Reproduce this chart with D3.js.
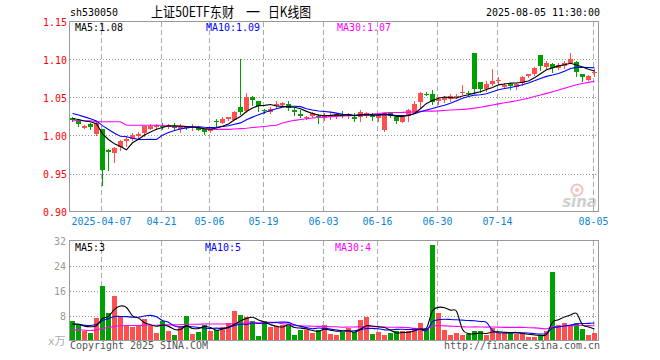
<!DOCTYPE html>
<html>
<head>
<meta charset="utf-8">
<script src="https://cdn.jsdelivr.net/npm/d3@7"></script>
<style>
    body { margin: 0; background: #fff; }
    #chart { width: 660px; height: 360px; }
    .mono { font-family: "DejaVu Sans Mono", monospace; font-size: 11px; }
</style>
</head>
<body>
<div id="chart"></div>
<script>
// trading days shown (one candle each)
const dates = [
    "2025-03-28", "2025-03-31", "2025-04-01", "2025-04-02", "2025-04-03", "2025-04-07", "2025-04-08", "2025-04-09", "2025-04-10", "2025-04-11",
    "2025-04-14", "2025-04-15", "2025-04-16", "2025-04-17", "2025-04-18", "2025-04-21", "2025-04-22", "2025-04-23", "2025-04-24", "2025-04-25",
    "2025-04-28", "2025-04-29", "2025-04-30", "2025-05-06", "2025-05-07", "2025-05-08", "2025-05-09", "2025-05-12", "2025-05-13", "2025-05-14",
    "2025-05-15", "2025-05-16", "2025-05-19", "2025-05-20", "2025-05-21", "2025-05-22", "2025-05-23", "2025-05-26", "2025-05-27", "2025-05-28",
    "2025-05-29", "2025-05-30", "2025-06-03", "2025-06-04", "2025-06-05", "2025-06-06", "2025-06-09", "2025-06-10", "2025-06-11", "2025-06-12",
    "2025-06-13", "2025-06-16", "2025-06-17", "2025-06-18", "2025-06-19", "2025-06-20", "2025-06-23", "2025-06-24", "2025-06-25", "2025-06-26",
    "2025-06-27", "2025-06-30", "2025-07-01", "2025-07-02", "2025-07-03", "2025-07-04", "2025-07-07", "2025-07-08", "2025-07-09", "2025-07-10",
    "2025-07-11", "2025-07-14", "2025-07-15", "2025-07-16", "2025-07-17", "2025-07-18", "2025-07-21", "2025-07-22", "2025-07-23", "2025-07-24",
    "2025-07-25", "2025-07-28", "2025-07-29", "2025-07-30", "2025-07-31", "2025-08-01", "2025-08-04", "2025-08-05"
];

const opens = [
    1.023, 1.021, 1.011, 1.015, 1.002, 1.008, 0.981, 0.978, 0.985, 0.993,
    0.995, 0.9995, 1.003, 1.009, 1.0105, 1.0125, 1.0113, 1.013, 1.0085, 1.012,
    1.0105, 1.0105, 1.008, 1.006, 1.0185, 1.017, 1.022, 1.021, 1.037, 1.032,
    1.050, 1.045, 1.0335, 1.032, 1.038, 1.040, 1.041, 1.034, 1.028, 1.024,
    1.0245, 1.0255, 1.023, 1.024, 1.025, 1.0275, 1.025, 1.025, 1.024, 1.026,
    1.027, 1.023, 1.007, 1.029, 1.025, 1.019, 1.025, 1.030, 1.044, 1.055,
    1.054, 1.0455, 1.0465, 1.048, 1.0508, 1.0565, 1.0565, 1.108, 1.070, 1.0605,
    1.0675, 1.072, 1.064, 1.068, 1.0649, 1.0697, 1.0777, 1.080, 1.1055, 1.0905,
    1.0947, 1.089, 1.0915, 1.096, 1.097, 1.0805, 1.0733, 1.0835
];
const highs = [
    1.025, 1.022, 1.014, 1.017, 1.019, 1.009, 0.982, 0.985, 0.994, 0.999,
    1.003, 1.004, 1.013, 1.015, 1.015, 1.017, 1.015, 1.016, 1.015, 1.013,
    1.015, 1.012, 1.009, 1.009, 1.022, 1.024, 1.025, 1.032, 1.101, 1.056,
    1.052, 1.046, 1.035, 1.037, 1.045, 1.044, 1.045, 1.0365, 1.033, 1.026,
    1.031, 1.028, 1.029, 1.030, 1.030, 1.032, 1.030, 1.030, 1.034, 1.031,
    1.030, 1.027, 1.030, 1.031, 1.026, 1.025, 1.035, 1.046, 1.057, 1.057,
    1.060, 1.050, 1.0515, 1.054, 1.054, 1.066, 1.0585, 1.108, 1.071, 1.072,
    1.087, 1.077, 1.0695, 1.069, 1.069, 1.078, 1.081, 1.090, 1.1055, 1.0975,
    1.095, 1.096, 1.0975, 1.109, 1.098, 1.0815, 1.0795, 1.0872
];
const lows = [
    1.019, 1.013, 1.010, 1.009, 1.000, 0.935, 0.954, 0.965, 0.981, 0.986,
    0.994, 0.995, 0.999, 1.008, 1.009, 1.009, 1.010, 1.008, 1.005, 1.008,
    1.007, 1.007, 1.002, 1.004, 1.013, 1.016, 1.021, 1.020, 1.028, 1.031,
    1.040, 1.032, 1.029, 1.030, 1.036, 1.039, 1.033, 1.027, 1.024, 1.022,
    1.024, 1.016, 1.020, 1.022, 1.023, 1.024, 1.023, 1.019, 1.019, 1.024,
    1.020, 1.019, 1.006, 1.024, 1.017, 1.018, 1.019, 1.029, 1.038, 1.053,
    1.042, 1.041, 1.044, 1.046, 1.049, 1.054, 1.0535, 1.056, 1.057, 1.059,
    1.066, 1.068, 1.062, 1.061, 1.0615, 1.067, 1.0765, 1.0795, 1.086, 1.087,
    1.0837, 1.087, 1.089, 1.095, 1.078, 1.0715, 1.0725, 1.0784
];
const closes = [
    1.020, 1.016, 1.013, 1.011, 1.017, 0.954, 0.979, 0.984, 0.993, 0.996,
    1.000, 1.002, 1.012, 1.013, 1.0135, 1.012, 1.014, 1.0105, 1.012, 1.0098,
    1.011, 1.008, 1.004, 1.0083, 1.018, 1.022, 1.024, 1.031, 1.030, 1.051,
    1.0455, 1.039, 1.033, 1.0355, 1.041, 1.043, 1.0355, 1.031, 1.025, 1.0242,
    1.029, 1.025, 1.027, 1.027, 1.028, 1.027, 1.028, 1.022, 1.031, 1.030,
    1.0245, 1.027, 1.029, 1.025, 1.020, 1.025, 1.033, 1.042, 1.056, 1.0548,
    1.044, 1.0485, 1.050, 1.0517, 1.0526, 1.0575, 1.0558, 1.061, 1.0605, 1.0675,
    1.0715, 1.0728, 1.067, 1.0655, 1.0684, 1.077, 1.0803, 1.0885, 1.0915, 1.0955,
    1.089, 1.0934, 1.096, 1.101, 1.084, 1.0767, 1.0785, 1.0838
];

// volume, in 10k lots (x万)
const volumes = [
    6.1, 5.3, 2.9, 2.3, 7.1, 17.6, 8.7, 14.1, 7.7, 4.7,
    4.3, 5.0, 6.8, 4.5, 2.3, 6.1, 2.9, 1.9, 4.5, 8.0,
    2.0, 2.7, 5.1, 3.0, 3.5, 4.3, 5.7, 9.6, 8.3, 7.5,
    6.1, 1.4, 6.1, 4.3, 4.8, 5.0, 4.8, 1.8, 3.5, 3.5,
    2.5, 3.5, 5.0, 2.0, 1.9, 2.7, 4.0, 2.7, 6.7, 7.5,
    2.2, 2.7, 1.6, 2.3, 3.2, 2.9, 3.2, 4.0, 5.5, 4.1,
    30.7, 8.7, 3.5, 1.6, 2.3, 1.6, 2.0, 3.2, 2.9, 1.6,
    4.0, 2.3, 2.3, 2.3, 2.0, 2.3, 1.1, 1.1, 1.9, 3.2,
    21.9, 5.0, 5.7, 5.0, 5.7, 3.7, 1.6, 2.3
];

// moving-average values before a full window exists
const ma5Lead = [1.0224, 1.021, 1.019, 1.018];
const ma10Lead = [1.029, 1.027, 1.0245, 1.022, 1.019, 1.013, 1.008, 1.003, 0.999];
const ma30Lead = [
    1.0195, 1.0195, 1.0195, 1.0195, 1.018, 1.018, 1.018, 1.018, 1.018, 1.0135,
    1.0135, 1.0135, 1.0135, 1.0135, 1.0135, 1.0135, 1.012, 1.012, 1.0115, 1.011,
    1.011, 1.0105, 1.009, 1.0085, 1.008, 1.008, 1.008, 1.0085, 1.009
];
const volMa5Lead = [5.3, 5.2, 4.6, 4.4];
const volMa10Lead = [5.3, 5.2, 4.9, 4.8, 5.2, 6.3, 7.0, 7.7, 7.7];
const volMa30Lead = [
    3.4, 3.4, 3.3, 3.2, 3.4, 3.8, 4.2, 4.5, 4.7, 4.8,
    4.8, 4.8, 4.9, 4.9, 4.9, 5.0, 5.0, 5.0, 5.1, 5.2,
    5.2, 5.2, 5.3, 5.3, 5.3, 5.3, 5.3, 5.4, 5.4
];

const tickDates = ["2025-04-07", "2025-04-21", "2025-05-06", "2025-05-19", "2025-06-03",
    "2025-06-16", "2025-06-30", "2025-07-14", "2025-08-05"];
const priceTicks = [0.90, 0.95, 1.00, 1.05, 1.10, 1.15];
const volTicks = [8, 16, 24, 32];
const titleParts = ["上证50ETF东财", "一", "日K线图"];

const RED = "#ff5050";
const GREEN = "#00a000";

class KLineVis {
    constructor(parentElement) {
        this.parentElement = parentElement;
        this.initVis();
    }

    initVis() {
        let vis = this;

        vis.left = 70;
        vis.right = 598;

        vis.svg = d3.select("#" + vis.parentElement)
            .append("svg")
            .attr("width", 660)
            .attr("height", 360);

        vis.xScale = d3.scaleBand()
            .domain(dates)
            .range([vis.left, vis.right])
            .padding(0);

        vis.yPrice = d3.scaleLinear()
            .domain([0.90, 1.15])
            .range([211.5, 21.5]);

        vis.yVol = d3.scaleLinear()
            .domain([0, 32])
            .range([340.5, 240.5]);

        vis.wrangleData();
    }

    wrangleData() {
        let vis = this;

        let rolling = (arr, n, lead) => arr.map((v, i) =>
            i < n - 1 ? lead[i] : d3.mean(arr.slice(i - n + 1, i + 1)));

        vis.candles = dates.map((d, i) => ({
            date: d, open: opens[i], high: highs[i], low: lows[i], close: closes[i],
            volume: volumes[i], up: closes[i] >= opens[i]
        }));

        vis.ma5 = rolling(closes, 5, ma5Lead);
        vis.ma10 = rolling(closes, 10, ma10Lead);
        vis.ma30 = rolling(closes, 30, ma30Lead);
        vis.vma5 = rolling(volumes, 5, volMa5Lead);
        vis.vma10 = rolling(volumes, 10, volMa10Lead);
        vis.vma30 = rolling(volumes, 30, volMa30Lead);

        vis.updateVis();
    }

    monoText(g, x, y, str, color, anchor) {
        return g.append("text")
            .attr("class", "mono")
            .attr("x", x)
            .attr("y", y)
            .attr("text-anchor", anchor || "start")
            .attr("fill", color)
            .attr("textLength", str.length * 6)
            .attr("lengthAdjust", "spacingAndGlyphs")
            .text(str);
    }

    updateVis() {
        let vis = this;
        let last = dates.length - 1;

        // header
        vis.monoText(vis.svg, 70, 16, "sh530050", "#000");
        let titlePos = [[151, 83], [246, null], [268, 43]];
        vis.svg.selectAll(".title")
            .data(titleParts)
            .enter()
            .append("text")
            .attr("class", "title")
            .attr("x", (d, i) => titlePos[i][0])
            .attr("y", 17)
            .attr("textLength", (d, i) => titlePos[i][1])
            .attr("lengthAdjust", "spacingAndGlyphs")
            .style("font-family", "'Noto Sans CJK SC', sans-serif")
            .style("font-size", "14px")
            .attr("fill", "#000")
            .text(d => d);
        vis.monoText(vis.svg, 600, 16, "2025-08-05 11:30:00", "#000", "end");

        // grids
        let grid = vis.svg.append("g").attr("shape-rendering", "crispEdges");
        tickDates.forEach(d => {
            let gx = Math.round(vis.xScale(d)) + 1.5;
            [[21.5, 211.5], [240.5, 340.5]].forEach(r => {
                grid.append("line")
                    .attr("x1", gx).attr("x2", gx)
                    .attr("y1", r[0]).attr("y2", r[1])
                    .attr("stroke", "#aaa")
                    .attr("stroke-dasharray", "5,3");
            });
        });
        priceTicks.slice(1, -1).forEach(p => {
            grid.append("line")
                .attr("x1", vis.left).attr("x2", vis.right)
                .attr("y1", Math.round(vis.yPrice(p)) + 0.5).attr("y2", Math.round(vis.yPrice(p)) + 0.5)
                .attr("stroke", "#999")
                .attr("stroke-dasharray", "1,2");
        });
        volTicks.slice(0, -1).forEach(v => {
            grid.append("line")
                .attr("x1", vis.left).attr("x2", vis.right)
                .attr("y1", Math.round(vis.yVol(v)) + 0.5).attr("y2", Math.round(vis.yVol(v)) + 0.5)
                .attr("stroke", "#999")
                .attr("stroke-dasharray", "1,2");
        });

        // sina watermark
        let wm = vis.svg.append("g").attr("opacity", 0.55);
        wm.append("circle").attr("cx", 577).attr("cy", 190).attr("r", 5.5)
            .attr("fill", "none").attr("stroke", "#f09090").attr("stroke-width", 2);
        wm.append("circle").attr("cx", 577).attr("cy", 190).attr("r", 2).attr("fill", "#f09090");
        wm.append("text")
            .attr("x", 597).attr("y", 207)
            .attr("text-anchor", "end")
            .style("font-family", "'DejaVu Sans', sans-serif")
            .style("font-size", "15px")
            .style("font-style", "italic")
            .style("font-weight", "bold")
            .attr("fill", "#aaa")
            .text("sina");

        // candles
        let cg = vis.svg.append("g").attr("shape-rendering", "crispEdges");
        cg.selectAll(".wick")
            .data(vis.candles)
            .enter()
            .append("line")
            .attr("class", "wick")
            .attr("x1", d => vis.xScale(d.date) + 2.5)
            .attr("x2", d => vis.xScale(d.date) + 2.5)
            .attr("y1", d => Math.round(vis.yPrice(d.high)))
            .attr("y2", d => Math.round(vis.yPrice(d.low)) + 1)
            .attr("stroke", d => d.up ? RED : GREEN);

        cg.selectAll(".body")
            .data(vis.candles)
            .enter()
            .append("rect")
            .attr("class", "body")
            .attr("x", d => vis.xScale(d.date))
            .attr("y", d => Math.round(vis.yPrice(Math.max(d.open, d.close))))
            .attr("width", 5)
            .attr("height", d => Math.max(1, Math.round(Math.abs(vis.yPrice(d.open) - vis.yPrice(d.close)))))
            .attr("fill", d => d.up ? RED : GREEN);

        // price moving averages
        let priceLine = d3.line()
            .x((v, i) => vis.xScale(dates[i]) + 2.5)
            .y(v => vis.yPrice(v));
        [[vis.ma30, "#ff00ff"], [vis.ma10, "#0000ff"], [vis.ma5, "#000"]].forEach(m => {
            vis.svg.append("path")
                .attr("d", priceLine(m[0]))
                .attr("fill", "none")
                .attr("stroke", m[1])
                .attr("stroke-width", 1.1);
        });

        // volume bars
        vis.svg.append("g")
            .attr("shape-rendering", "crispEdges")
            .selectAll(".vol")
            .data(vis.candles)
            .enter()
            .append("rect")
            .attr("class", "vol")
            .attr("x", d => vis.xScale(d.date))
            .attr("y", d => Math.round(vis.yVol(d.volume)))
            .attr("width", 5)
            .attr("height", d => 340 - Math.round(vis.yVol(d.volume)))
            .attr("fill", d => d.up ? RED : GREEN);

        let volLine = d3.line()
            .x((v, i) => vis.xScale(dates[i]) + 2.5)
            .y(v => vis.yVol(v))
            .curve(d3.curveCardinal);
        [[vis.vma30, "#ff00ff"], [vis.vma10, "#0000ff"], [vis.vma5, "#000"]].forEach(m => {
            vis.svg.append("path")
                .attr("d", volLine(m[0]))
                .attr("fill", "none")
                .attr("stroke", m[1])
                .attr("stroke-width", 1.1);
        });

        // panel borders
        [[21.5, 211.5], [240.5, 340.5]].forEach(r => {
            vis.svg.append("rect")
                .attr("x", vis.left - 0.5)
                .attr("y", r[0])
                .attr("width", vis.right - vis.left + 1)
                .attr("height", r[1] - r[0])
                .attr("fill", "none")
                .attr("stroke", "#999")
                .attr("shape-rendering", "crispEdges");
        });

        // price axis labels
        priceTicks.forEach(p => {
            vis.monoText(vis.svg, 67, vis.yPrice(p) + 4, p.toFixed(2), "#ff0000", "end");
        });

        // volume axis labels
        volTicks.forEach(v => {
            vis.monoText(vis.svg, 66, vis.yVol(v) + 4, String(v), "#999", "end");
        });
        vis.svg.append("text")
            .attr("x", 48).attr("y", 345)
            .style("font-family", "'DejaVu Sans Mono', 'Noto Sans CJK SC', monospace")
            .style("font-size", "11px")
            .attr("fill", "#aaa")
            .text("x万");

        // date labels
        tickDates.forEach((d, i) => {
            let label = i === 0 ? d : d.slice(5);
            vis.monoText(vis.svg, Math.round(vis.xScale(d)) + 1.5, 225, label, "#0a84d8", "middle");
        });

        // legends
        vis.monoText(vis.svg, 75, 31, "MA5:" + vis.ma5[last].toFixed(2), "#000");
        vis.monoText(vis.svg, 206, 31, "MA10:" + vis.ma10[last].toFixed(2), "#0000ff");
        vis.monoText(vis.svg, 337, 31, "MA30:" + vis.ma30[last].toFixed(2), "#ff00ff");

        vis.monoText(vis.svg, 75, 251, "MA5:" + Math.floor(vis.vma5[last]), "#000");
        vis.monoText(vis.svg, 205, 251, "MA10:" + Math.floor(vis.vma10[last]), "#0000ff");
        vis.monoText(vis.svg, 335, 251, "MA30:" + Math.floor(vis.vma30[last]), "#ff00ff");

        // footer
        vis.monoText(vis.svg, 70, 349, "Copyright 2025 SINA.COM", "#555");
        vis.monoText(vis.svg, 600, 349, "http://finance.sina.com.cn", "#555", "end");
    }
}

new KLineVis("chart");
</script>
</body>
</html>
